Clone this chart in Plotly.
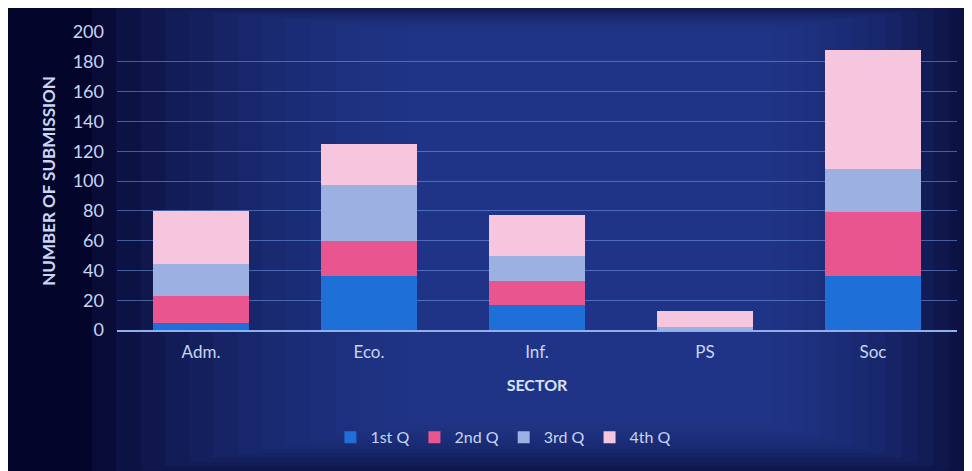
import plotly.graph_objects as go

sectors = ["Adm.", "Eco.", "Inf.", "PS", "Soc"]
q1 = [5, 36, 17, 0, 36]
q2 = [18, 24, 16, 0, 43]
q3 = [21, 37, 17, 2, 29]
q4 = [36, 28, 27, 11, 80]
series_names = ["1st Q", "2nd Q", "3rd Q", "4th Q"]
series_colors = ["#1f6fd8", "#e9568f", "#9db0e2", "#f5c6de"]

fig = go.Figure()
for name, vals, col in zip(series_names, [q1, q2, q3, q4], series_colors):
    fig.add_trace(go.Bar(x=sectors, y=vals, name=name, marker=dict(color=col, line=dict(width=0))))

# background vignette (decoration)
shapes = []
shapes.append(dict(type="rect", xref="paper", yref="paper", x0=-0.2, x1=1.2, y0=-0.6, y1=1.2,
                   fillcolor="#04052a", line=dict(width=0), layer="below"))
n = 14
for i in range(n):
    f = i / n
    shapes.append(dict(type="rect", xref="paper", yref="paper",
                       x0=-0.03 + 0.45 * f * 0.9, x1=1.03 - 0.45 * f * 0.6,
                       y0=-0.5 + 0.2 * f, y1=1.1 - 0.1 * f,
                       fillcolor="#2a44a0", opacity=0.12, line=dict(width=0), layer="below"))
fig.update_layout(shapes=shapes)

font_family = "Lato, 'Open Sans', sans-serif"
fig.update_layout(
    barmode="stack",
    bargap=0.43,
    width=964, height=463,
    margin=dict(l=109, r=15, t=21, b=141),
    paper_bgcolor="#0b1050",
    plot_bgcolor="rgba(0,0,0,0)",
    font=dict(family=font_family, color="#c9d5f2", size=16),
    yaxis=dict(range=[0, 200], dtick=20, showgrid=True,
               gridcolor="rgba(115,155,230,0.55)", gridwidth=1,
               zeroline=False, showline=False,
               tickfont=dict(size=18, color="#c9d5f2"),
               ticklabelstandoff=12,
               title=dict(text="<b>NUMBER OF SUBMISSION</b>", font=dict(size=17, color="#c9d5f2"), standoff=12)),
    xaxis=dict(showgrid=False, showline=True, linecolor="#8fb0ea", linewidth=2,
               tickfont=dict(size=17, color="#c9d5f2"), ticklabelstandoff=6,
               title=dict(text="<b>SECTOR</b>", font=dict(size=16, color="#d8e2f8"), standoff=18)),
    legend=dict(orientation="h", x=0.46, xanchor="center", y=-0.36, yanchor="middle",
                font=dict(size=16, color="#c9d5f2"), bgcolor="rgba(0,0,0,0)",
                itemwidth=30, traceorder="normal"),
)

fig.write_html("out.html")
